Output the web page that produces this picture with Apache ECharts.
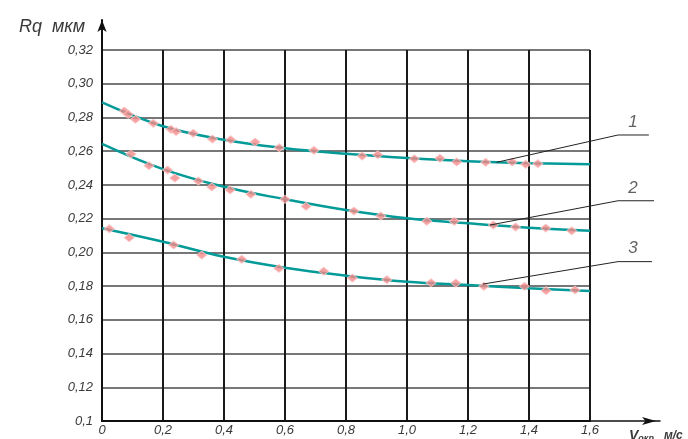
<!DOCTYPE html>
<html>
<head>
<meta charset="utf-8">
<script src="https://cdn.jsdelivr.net/npm/echarts@6/dist/echarts.min.js"></script>
<style>
  html, body { margin: 0; padding: 0; background: #fff; }
  #main { width: 688px; height: 439px; }
</style>
</head>
<body>
<div id="main"></div>
<script>
var chart = echarts.init(document.getElementById('main'));

// подписи осей
var xTickLabels = ['0', '0,2', '0,4', '0,6', '0,8', '1,0', '1,2', '1,4', '1,6'];
var yTickLabels = ['0,1', '0,12', '0,14', '0,16', '0,18', '0,20', '0,22', '0,24', '0,26', '0,28', '0,30', '0,32'];

// аппроксимирующие кривые
var curveX = [0, 0.2, 0.4, 0.6, 0.8, 1.0, 1.2, 1.4, 1.6];
var curve1 = [0.2889, 0.2748, 0.2668, 0.2618, 0.2585, 0.2560, 0.2541, 0.2529, 0.2522];
var curve2 = [0.2644, 0.2494, 0.2389, 0.2315, 0.2251, 0.2202, 0.2172, 0.2146, 0.2128];
var curve3 = [0.2143, 0.2063, 0.1974, 0.1909, 0.1862, 0.1826, 0.1806, 0.1787, 0.1771];

// экспериментальные точки
var m1x = [0.073, 0.086, 0.110, 0.168, 0.226, 0.243, 0.299, 0.362, 0.422, 0.502, 0.581, 0.695, 0.853, 0.904, 1.024, 1.108, 1.163, 1.258, 1.345, 1.389, 1.429];
var m1y = [0.2838, 0.2819, 0.2789, 0.2765, 0.2730, 0.2716, 0.2706, 0.2672, 0.2668, 0.2654, 0.2621, 0.2605, 0.2571, 0.2579, 0.2555, 0.2558, 0.2536, 0.2534, 0.2536, 0.2522, 0.2526];
var m2x = [0.095, 0.154, 0.215, 0.239, 0.316, 0.360, 0.420, 0.488, 0.600, 0.669, 0.826, 0.914, 1.065, 1.155, 1.283, 1.356, 1.455, 1.540];
var m2y = [0.2583, 0.2514, 0.2488, 0.2441, 0.2423, 0.2388, 0.2370, 0.2344, 0.2315, 0.2273, 0.2245, 0.2216, 0.2184, 0.2184, 0.2162, 0.2150, 0.2144, 0.2128];
var m3x = [0.024, 0.089, 0.235, 0.327, 0.458, 0.580, 0.727, 0.821, 0.934, 1.079, 1.160, 1.252, 1.385, 1.456, 1.551];
var m3y = [0.2140, 0.2087, 0.2044, 0.1984, 0.1959, 0.1905, 0.1888, 0.1848, 0.1838, 0.1820, 0.1818, 0.1799, 0.1799, 0.1773, 0.1777];

// выноски 1, 2, 3
var curveNames = ['1', '2', '3'];
var leaderX = [1.294, 1.692, 1.793];
var leader1 = [0.2534, 0.2696, 0.2696];
var leader2X = [1.272, 1.692, 1.810];
var leader2 = [0.2162, 0.2306, 0.2306];
var leader3X = [1.249, 1.692, 1.803];
var leader3 = [0.1812, 0.1945, 0.1945];
var nameX = [1.741, 1.741, 1.741];
var nameY = [0.2772, 0.2381, 0.2025];

function pairs(xs, ys) {
    return xs.map(function (x, i) { return [x, ys[i]]; });
}

var teal = '#049a98';
var pink = '#f48a8a';
var fontFam = 'Liberation Sans';

var lineSeries = [curve1, curve2, curve3].map(function (c) {
    return {
        type: 'line',
        xAxisIndex: 0, yAxisIndex: 0,
        data: pairs(curveX, c),
        smooth: 0.4,
        symbol: 'none',
        lineStyle: { color: teal, width: 2.5 },
        z: 3
    };
});

var markSeries = [[m1x, m1y], [m2x, m2y], [m3x, m3y]].map(function (m) {
    return {
        type: 'scatter',
        xAxisIndex: 0, yAxisIndex: 0,
        data: pairs(m[0], m[1]),
        symbol: 'diamond',
        symbolSize: [10, 8],
        itemStyle: { color: pink, borderColor: '#fbc4c4', borderWidth: 1 },
        z: 4
    };
});

var leaderSeries = [[leaderX, leader1], [leader2X, leader2], [leader3X, leader3]].map(function (l) {
    return {
        type: 'line',
        xAxisIndex: 1, yAxisIndex: 1,
        data: pairs(l[0], l[1]),
        symbol: 'none',
        clip: false,
        lineStyle: { color: '#222', width: 1 },
        z: 5
    };
});

var option = {
    animation: false,
    title: [{
        text: 'Rq  мкм',
        left: 14, top: 13,
        textStyle: { fontFamily: fontFam, fontStyle: 'italic', fontWeight: 'normal', fontSize: 18, color: '#3a3a3a' }
    }, {
        text: '{v|V}{s|окр}  {m|м/с}',
        left: 624, top: 422,
        textStyle: {
            rich: {
                v: { fontFamily: fontFam, fontStyle: 'italic', fontSize: 14, color: '#3a3a3a' },
                s: { fontFamily: fontFam, fontStyle: 'italic', fontSize: 9, color: '#3a3a3a', padding: [6, 0, 0, 0] },
                m: { fontFamily: fontFam, fontStyle: 'italic', fontSize: 12, color: '#3a3a3a' }
            }
        }
    }],
    grid: [
        { left: 102, top: 50, right: 98, bottom: 18 },
        { left: 102, top: 20, right: 28, bottom: 18 }
    ],
    xAxis: [{
        type: 'value', gridIndex: 0,
        min: 0, max: 1.6, interval: 0.2,
        axisLine: { show: true, lineStyle: { color: '#111', width: 2 } },
        axisTick: { show: false },
        axisLabel: {
            margin: 3,
            fontFamily: fontFam, fontStyle: 'italic', fontSize: 13, color: '#3a3a3a',
            formatter: function (v) { return xTickLabels[Math.round(v / 0.2)]; }
        },
        splitLine: { show: true, lineStyle: { color: '#1a1a1a', width: 2 } }
    }, {
        type: 'value', gridIndex: 1,
        min: 0, max: 1.6 * 558 / 488,
        axisLine: { show: true, symbol: ['none', 'arrow'], symbolSize: [6, 14], symbolOffset: [0, -4], lineStyle: { color: '#111', width: 1.5 } },
        axisTick: { show: false },
        axisLabel: { show: false },
        splitLine: { show: false }
    }],
    yAxis: [{
        type: 'value', gridIndex: 0,
        min: 0.1, max: 0.32, interval: 0.02,
        axisLine: { show: true, lineStyle: { color: '#111', width: 2 } },
        axisTick: { show: false },
        axisLabel: {
            margin: 9,
            fontFamily: fontFam, fontStyle: 'italic', fontSize: 13, color: '#3a3a3a',
            formatter: function (v) { return yTickLabels[Math.round((v - 0.1) / 0.02)]; }
        },
        splitLine: { show: true, lineStyle: { color: '#4a4a4a', width: 1.5 } }
    }, {
        type: 'value', gridIndex: 1,
        min: 0.1, max: 0.1 + 0.22 * 401 / 371,
        axisLine: { show: true, symbol: ['none', 'arrow'], symbolSize: [7, 12], lineStyle: { color: '#111', width: 2 } },
        axisTick: { show: false },
        axisLabel: { show: false },
        splitLine: { show: false }
    }],
    series: lineSeries.concat(markSeries, leaderSeries, [{
        type: 'scatter',
        xAxisIndex: 1, yAxisIndex: 1,
        data: curveNames.map(function (n, i) { return { name: n, value: [nameX[i], nameY[i]] }; }),
        symbolSize: 0,
        label: {
            show: true,
            position: 'inside',
            formatter: '{b}',
            fontFamily: fontFam, fontStyle: 'italic', fontSize: 17, color: '#3a3a3a'
        },
        z: 6
    }])
};
chart.setOption(option);
</script>
</body>
</html>
